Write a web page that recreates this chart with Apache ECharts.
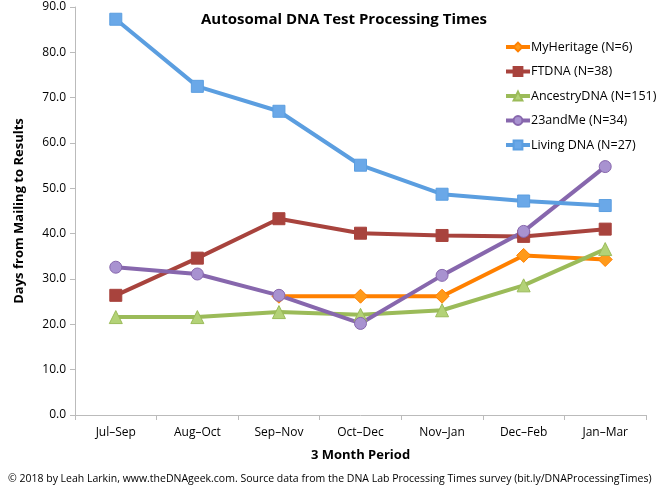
<!DOCTYPE html>
<html><head><meta charset="utf-8">
<script src="https://cdn.jsdelivr.net/npm/echarts@6/dist/echarts.min.js"></script>
<style>html,body{margin:0;padding:0;background:#fff}#c{width:663px;height:497px}</style>
</head><body><div id="c"></div>
<script>
const categories = ['Jul\u2013Sep','Aug\u2013Oct','Sep\u2013Nov','Oct\u2013Dec','Nov\u2013Jan','Dec\u2013Feb','Jan\u2013Mar'];
const myHeritage = [null, null, 26.2, 26.2, 26.2, 35.2, 34.3];
const ftdna = [26.4, 34.6, 43.3, 40.1, 39.6, 39.4, 41.0];
const ancestryDNA = [21.6, 21.6, 22.7, 22.1, 23.1, 28.6, 36.6];
const andMe23 = [32.6, 31.1, 26.4, 20.2, 30.8, 40.5, 54.8];
const livingDNA = [87.3, 72.5, 67.0, 55.1, 48.7, 47.2, 46.2];
const yTicks = [0, 10, 20, 30, 40, 50, 60, 70, 80, 90];

const FONT = '"Open Sans", "Liberation Sans", sans-serif';
function mk(name, data, color, light, symbol, size) {
  return {
    name, type: 'line', data, symbol, symbolSize: size,
    lineStyle: { color, width: 4 },
    itemStyle: { color: light, borderColor: color, borderWidth: 1 },
    emphasis: { disabled: true },
    animation: false
  };
}
const chart = echarts.init(document.getElementById('c'), null, { renderer: 'canvas' });
chart.setOption({
  backgroundColor: '#fff',
  animation: false,
  title: {
    text: 'Autosomal DNA Test Processing Times',
    left: 339, top: 7, textAlign: 'center',
    textStyle: { fontFamily: FONT, fontWeight: 'bold', fontSize: 15, color: '#000' }
  },
  legend: {
    orient: 'vertical', left: 504, top: 40, itemGap: 10.5, padding: 0,
    itemWidth: 24, itemHeight: 11,
    lineStyle: { width: 4 },
    textStyle: { fontFamily: FONT, fontSize: 12.5, lineHeight: 14, color: '#000', padding: [0,0,0,-4] },
    data: ['MyHeritage (N=6)', 'FTDNA (N=38)', 'AncestryDNA (N=151)', '23andMe (N=34)', 'Living DNA (N=27)']
  },
  grid: { left: 75, right: 17, top: 7, bottom: 82, containLabel: false },
  xAxis: {
    type: 'category', data: categories, boundaryGap: true,
    name: '3 Month Period', nameLocation: 'middle', nameGap: 34,
    nameTextStyle: { fontFamily: FONT, fontWeight: 'bold', fontSize: 13, color: '#000' },
    axisLine: { lineStyle: { color: '#bbb', width: 1 } },
    axisTick: { show: true, alignWithLabel: false, length: 5, lineStyle: { color: '#bbb' } },
    axisLabel: { fontFamily: FONT, fontSize: 12, color: '#000', margin: 12 }
  },
  yAxis: {
    type: 'value', min: 0, max: 90, interval: 10,
    name: 'Days from Mailing to Results', nameLocation: 'middle', nameGap: 49,
    nameTextStyle: { fontFamily: FONT, fontWeight: 'bold', fontSize: 13, color: '#000' },
    axisLine: { show: true, lineStyle: { color: '#bbb', width: 1 } },
    axisTick: { show: true, length: 5, lineStyle: { color: '#bbb' } },
    splitLine: { show: false },
    axisLabel: { fontFamily: FONT, fontSize: 12, color: '#000', margin: 9,
      formatter: v => yTicks.includes(v) ? v.toFixed(1) : '' }
  },
  graphic: [{
    type: 'text', left: 8, top: 474,
    style: { text: '\u00a9 2018 by Leah Larkin, www.theDNAgeek.com. Source data from the DNA Lab Processing Times survey (bit.ly/DNAProcessingTimes)',
      font: '10.5px ' + FONT, fill: '#000' }
  }],
  series: [
    mk('MyHeritage (N=6)', myHeritage, '#ff8000', '#ff9a1a', 'diamond', 14),
    mk('FTDNA (N=38)', ftdna, '#a8433d', '#a8433d', 'rect', 12),
    mk('AncestryDNA (N=151)', ancestryDNA, '#9bbb59', '#b3d277', 'triangle', 13),
    mk('23andMe (N=34)', andMe23, '#8767ad', '#a892d0', 'circle', 12),
    mk('Living DNA (N=27)', livingDNA, '#5b9ee0', '#6aa8e8', 'rect', 12)
  ]
});
</script></body></html>
